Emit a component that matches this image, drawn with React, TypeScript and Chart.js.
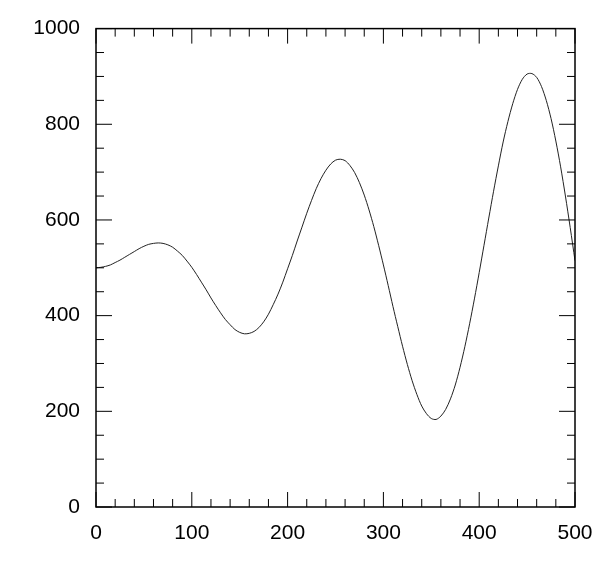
import React, { useEffect, useRef } from "react";
import { Chart, registerables } from "chart.js";

Chart.register(...registerables);

// Sample positions along x (every 5 units) and the curve values
const xValues: number[] = [
  0, 5, 10, 15, 20, 25, 30, 35, 40, 45,
  50, 55, 60, 65, 70, 75, 80, 85, 90, 95,
  100, 105, 110, 115, 120, 125, 130, 135, 140, 145,
  150, 155, 160, 165, 170, 175, 180, 185, 190, 195,
  200, 205, 210, 215, 220, 225, 230, 235, 240, 245,
  250, 255, 260, 265, 270, 275, 280, 285, 290, 295,
  300, 305, 310, 315, 320, 325, 330, 335, 340, 345,
  350, 355, 360, 365, 370, 375, 380, 385, 390, 395,
  400, 405, 410, 415, 420, 425, 430, 435, 440, 445,
  450, 455, 460, 465, 470, 475, 480, 485, 490, 495,
  500,
];

const yValues: number[] = [
  500, 501, 503, 506, 511, 516, 522, 528, 534, 540,
  545, 549, 551, 552, 551, 548, 543, 535, 526, 514,
  501, 486, 470, 454, 437, 421, 406, 392, 381, 371,
  365, 362, 363, 367, 375, 387, 403, 423, 445, 470,
  498, 526, 556, 585, 614, 641, 666, 687, 704, 717,
  725, 727, 724, 714, 699, 678, 652, 621, 586, 547,
  506, 463, 419, 377, 336, 298, 264, 235, 211, 195,
  185, 183, 190, 204, 226, 255, 292, 335, 383, 435,
  490, 547, 604, 660, 713, 763, 806, 843, 873, 894,
  905, 906, 898, 879, 850, 812, 765, 711, 650, 584,
  515,
];

// Axis ranges and tick steps
const X_MIN = 0;
const X_MAX = 500;
const X_MAJOR = 100;
const X_MINOR = 20;
const Y_MIN = 0;
const Y_MAX = 1000;
const Y_MAJOR = 200;
const Y_MINOR = 50;

const FONT = "'Liberation Sans', Arial, Helvetica, sans-serif";

const frameTicks = {
  id: "frameTicks",
  afterDraw(chart: any) {
    const { ctx, chartArea: a, scales } = chart;
    const xs = scales.x;
    const ys = scales.y;
    ctx.save();
    ctx.strokeStyle = "#000";
    ctx.lineWidth = 1;
    const seg = (x1: number, y1: number, x2: number, y2: number) => {
      ctx.beginPath();
      ctx.moveTo(x1, y1);
      ctx.lineTo(x2, y2);
      ctx.stroke();
    };
    for (let v = X_MIN; v <= X_MAX; v += X_MINOR) {
      const px = xs.getPixelForValue(v);
      const len = v % X_MAJOR === 0 ? 15 : 8;
      seg(px, a.bottom, px, a.bottom - len);
      seg(px, a.top, px, a.top + len);
    }
    for (let v = Y_MIN; v <= Y_MAX; v += Y_MINOR) {
      const py = ys.getPixelForValue(v);
      const len = v % Y_MAJOR === 0 ? 16 : 8;
      seg(a.left, py, a.left + len, py);
      seg(a.right, py, a.right - len, py);
    }
    ctx.lineWidth = 1.5;
    ctx.strokeRect(a.left, a.top, a.right - a.left, a.bottom - a.top);
    ctx.restore();
  },
};

export default function App() {
  const ref = useRef<HTMLCanvasElement | null>(null);

  useEffect(() => {
    if (!ref.current) return;
    const points = xValues.map((x, i) => ({ x, y: yValues[i] }));
    const chart = new Chart(ref.current, {
      type: "line",
      data: {
        datasets: [
          {
            data: points,
            borderColor: "#222",
            borderWidth: 1,
            pointRadius: 0,
            tension: 0.3,
            fill: false,
          },
        ],
      },
      options: {
        responsive: false,
        animation: false,
        layout: { padding: { left: 0, top: 28, right: 40, bottom: 0 } },
        plugins: {
          legend: { display: false },
          tooltip: { enabled: false },
          title: { display: false },
        },
        scales: {
          x: {
            type: "linear",
            min: X_MIN,
            max: X_MAX,
            grid: { display: false, drawTicks: false },
            border: { display: false },
            ticks: {
              stepSize: X_MAJOR,
              color: "#000",
              padding: 14,
              maxRotation: 0,
              font: { family: FONT, size: 21 },
              callback: (v: any) => String(v),
            },
            afterFit: (s: any) => {
              s.height = 67;
            },
          },
          y: {
            type: "linear",
            min: Y_MIN,
            max: Y_MAX,
            grid: { display: false, drawTicks: false },
            border: { display: false },
            ticks: {
              stepSize: Y_MAJOR,
              color: "#000",
              padding: 16,
              font: { family: FONT, size: 21 },
              callback: (v: any) => String(v),
            },
            afterFit: (s: any) => {
              s.width = 96;
            },
          },
        },
      },
      plugins: [frameTicks],
    });
    return () => chart.destroy();
  }, []);

  return (
    <div style={{ position: "absolute", left: 0, top: 0, width: 615, height: 574, background: "#fff" }}>
      <canvas ref={ref} width={615} height={574} style={{ display: "block" }} />
    </div>
  );
}
